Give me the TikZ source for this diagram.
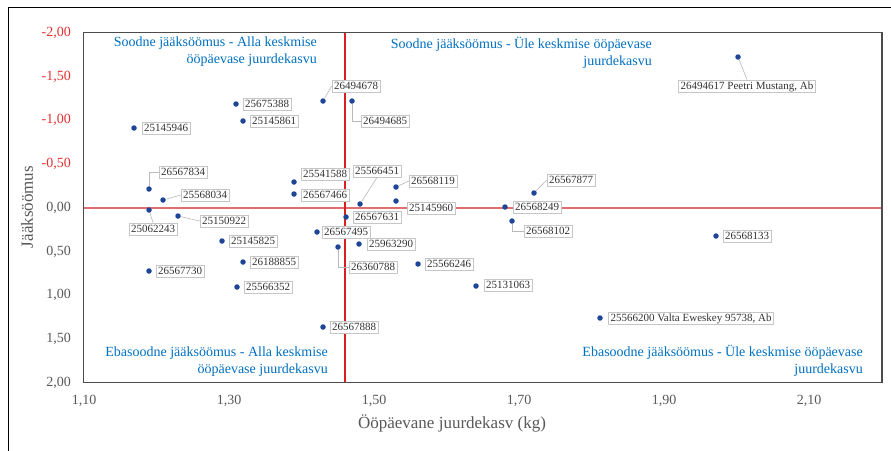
\documentclass[tikz,border=0pt]{standalone}
\usepackage{fontspec}
\setmainfont{Liberation Serif}
\definecolor{qblue}{RGB}{0,112,192}
\definecolor{dotblue}{RGB}{31,70,150}
\definecolor{tickgray}{RGB}{89,89,89}
\definecolor{negred}{RGB}{230,50,50}
\definecolor{vred}{RGB}{220,30,30}
\definecolor{hred}{RGB}{228,110,110}
\begin{document}
\begin{tikzpicture}[x=1pt,y=-1pt,
  dot/.style={circle,fill=dotblue,inner sep=0pt,minimum size=5.5pt},
  lbl/.style={draw=gray!45,fill=white,line width=0.5pt,font=\fontsize{11}{11}\selectfont,
    inner xsep=2pt,inner ysep=2.5pt,text height=7.5pt,text depth=0pt,text=black!80},
  leader/.style={draw=gray!55,line width=0.6pt},
  ytick/.style={anchor=east,inner sep=0pt,font=\fontsize{14}{14}\selectfont},
  xtick/.style={anchor=center,inner sep=0pt,font=\fontsize{14}{14}\selectfont,text=tickgray},
  quad/.style={inner sep=0pt,align=right,text=qblue,font=\fontsize{14}{17}\selectfont},
  axtitle/.style={inner sep=0pt,text=tickgray,font=\fontsize{17}{17}\selectfont}]
\useasboundingbox (0,0) rectangle (891,450);
\fill[white] (0,0) rectangle (891,450);
% outer frame
\coordinate (fa) at (8,455);
\coordinate (fb) at (8,7);
\coordinate (fc) at (896,7);
\draw[line width=0.9pt] (fa) -- (fb) -- (fc);
% plot area
\coordinate (tl) at (83.5,32.5);
\coordinate (br) at (882,382.5);
\coordinate (vt) at (345,32.5);
\coordinate (vb) at (345,382.5);
\coordinate (hl) at (83.5,207.5);
\coordinate (hr) at (882,207.5);
\draw[hred,line width=2pt] (hl) -- (hr);
\draw[vred,line width=1.5pt] (vt) -- (vb);
\draw[gray!60!black,line width=1.3pt] (tl) rectangle (br);
% y ticks
\node[ytick,text=negred] (ty1) at (71,33) {-2,00};
\node[ytick,text=negred] (ty2) at (71,76.5) {-1,50};
\node[ytick,text=negred] (ty3) at (71,120) {-1,00};
\node[ytick,text=negred] (ty4) at (71,164) {-0,50};
\node[ytick,text=tickgray] (ty5) at (71,207.5) {0,00};
\node[ytick,text=tickgray] (ty6) at (71,251.5) {0,50};
\node[ytick,text=tickgray] (ty7) at (71,295) {1,00};
\node[ytick,text=tickgray] (ty8) at (71,339) {1,50};
\node[ytick,text=tickgray] (ty9) at (71,382.5) {2,00};
% x ticks
\node[xtick] (tx1) at (84,401) {1,10};
\node[xtick] (tx2) at (229,401) {1,30};
\node[xtick] (tx3) at (374,401) {1,50};
\node[xtick] (tx4) at (519,401) {1,70};
\node[xtick] (tx5) at (664,401) {1,90};
\node[xtick] (tx6) at (809,401) {2,10};
% axis titles
\node[axtitle] (xt) at (452,423) {Ööpäevane juurdekasv (kg)};
\node[axtitle,rotate=90] (yt) at (27,207) {Jääksöömus};
% quadrant texts
\node[quad,anchor=north east] (q1) at (317,37) {Soodne jääksöömus - Alla keskmise\\ööpäevase juurdekasvu};
\node[quad,anchor=north east] (q2) at (652,37) {Soodne jääksöömus - Üle keskmise ööpäevase\\juurdekasvu};
\node[quad,anchor=north east] (q3) at (328,347) {Ebasoodne jääksöömus - Alla keskmise\\ööpäevase juurdekasvu};
\node[quad,anchor=north east] (q4) at (863,345) {Ebasoodne jääksöömus - Üle keskmise ööpäevase\\juurdekasvu};
% points
\node[dot] (p1) at (134,128) {};
\node[dot] (p2) at (236,104) {};
\node[dot] (p3) at (243,121) {};
\node[dot] (p4) at (323,101) {};
\node[dot] (p5) at (352,101) {};
\node[dot] (p6) at (738,57) {};
\node[dot] (p7) at (149,189) {};
\node[dot] (p8) at (163,200) {};
\node[dot] (p9) at (149,210) {};
\node[dot] (p10) at (178,216) {};
\node[dot] (p11) at (222,241) {};
\node[dot] (p12) at (243,262) {};
\node[dot] (p13) at (149,271) {};
\node[dot] (p14) at (237,287) {};
\node[dot] (p15) at (294,182) {};
\node[dot] (p16) at (294,194) {};
\node[dot] (p17) at (360,204) {};
\node[dot] (p18) at (396,187) {};
\node[dot] (p19) at (396,201) {};
\node[dot] (p20) at (346,217) {};
\node[dot] (p21) at (317,232) {};
\node[dot] (p22) at (338,247) {};
\node[dot] (p23) at (359,244) {};
\node[dot] (p24) at (418,264) {};
\node[dot] (p25) at (476,286) {};
\node[dot] (p26) at (534,193) {};
\node[dot] (p27) at (505,207) {};
\node[dot] (p28) at (512,221) {};
\node[dot] (p29) at (716,236) {};
\node[dot] (p30) at (323,327) {};
\node[dot] (p31) at (600,318) {};
% labels
\node[lbl] (l1) at (166,128) {25145946};
\node[lbl] (l2) at (267,104) {25675388};
\node[lbl] (l3) at (274,121) {25145861};
\node[lbl] (l4) at (356,86) {26494678};
\node[lbl] (l5) at (385,121) {26494685};
\node[lbl] (l6) at (747,86) {26494617 Peetri Mustang, Ab};
\node[lbl] (l7) at (183,172) {26567834};
\node[lbl] (l8) at (205,195) {25568034};
\node[lbl] (l9) at (153,229) {25062243};
\node[lbl] (l10) at (224,221) {25150922};
\node[lbl] (l11) at (253,241) {25145825};
\node[lbl] (l12) at (274,262) {26188855};
\node[lbl] (l13) at (180,271) {26567730};
\node[lbl] (l14) at (268,287) {25566352};
\node[lbl] (l15) at (325,174) {25541588};
\node[lbl] (l16) at (325,195) {26567466};
\node[lbl] (l17) at (377,171) {25566451};
\node[lbl] (l18) at (433,181) {26568119};
\node[lbl] (l19) at (431,208) {25145960};
\node[lbl] (l20) at (377,217) {26567631};
\node[lbl] (l21) at (346,232) {26567495};
\node[lbl] (l22) at (373,267) {26360788};
\node[lbl] (l23) at (391,244) {25963290};
\node[lbl] (l24) at (449,264) {25566246};
\node[lbl] (l25) at (508,285) {25131063};
\node[lbl] (l26) at (571,180) {26567877};
\node[lbl] (l27) at (537,207) {26568249};
\node[lbl] (l28) at (548,231) {26568102};
\node[lbl] (l29) at (747,236) {26568133};
\node[lbl] (l30) at (354,327) {26567888};
\node[lbl] (l31) at (691,318) {25566200 Valta Eweskey 95738, Ab};
% leaders
\draw[leader] (p4) -- (l4.west);
\draw[leader] (p5.south) |- (l5.west);
\draw[leader] (p6) -- (l6.north);
\draw[leader] (p7.north) |- (l7.west);
\draw[leader] (p8) -- (l8.west);
\draw[leader] (p9) -- (l9.north);
\draw[leader] (p10) -- (l10.west);
\draw[leader] (p17) -- (l17.south);
\draw[leader] (p18) -- (l18.west);
\draw[leader] (p22.south) |- (l22.west);
\draw[leader] (p26) -- (l26.west);
\draw[leader] (p28.south) |- (l28.west);
\end{tikzpicture}
\end{document}
